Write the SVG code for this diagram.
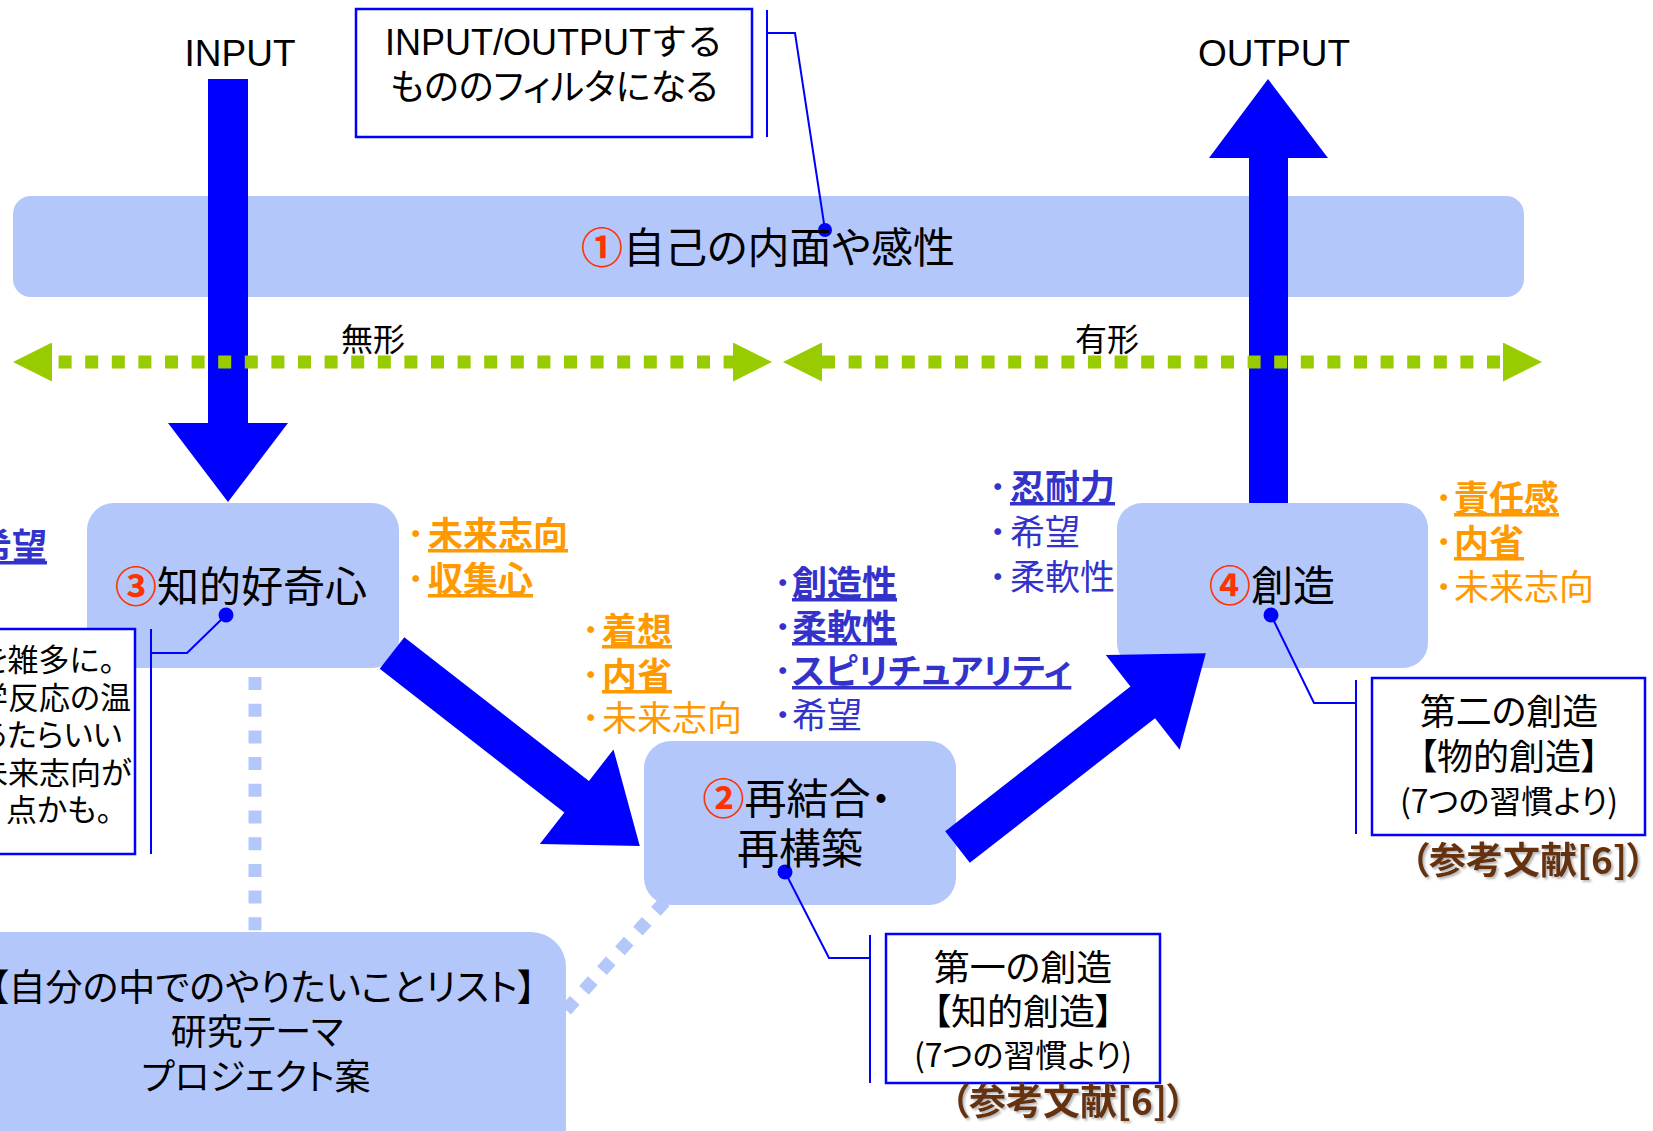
<svg xmlns="http://www.w3.org/2000/svg" width="1653" height="1131" viewBox="0 0 1653 1131">
<defs>
<style>
.jp{font-family:"Noto Sans CJK JP","Noto Sans",sans-serif;font-feature-settings:"palt" 1;}
.lat{font-family:"Liberation Sans","Noto Sans CJK JP",sans-serif;}
.box{fill:#b4c7fb;}
.big{fill:#0000ff;}
.green{stroke:#99cc00;stroke-width:13;stroke-dasharray:13 13.6;fill:none;}
.lb{stroke:#b4c7fb;stroke-width:13;stroke-dasharray:13 13.7;fill:none;}
.cbox{fill:#ffffff;stroke:#0000ff;stroke-width:2.5;}
.lead{fill:none;stroke:#0000ff;stroke-width:2;}
.dot{fill:#0000ff;}
.lbl{font-size:42px;fill:#000;}
.num{fill:#ff3300;font-weight:bold;}
.or{fill:#ff9900;font-size:35px;}
.bl{fill:#3333cc;font-size:35px;}
.b{font-weight:bold;}
.u{text-decoration:underline;}
.bul{font-feature-settings:normal;font-weight:bold;text-decoration:none;}
.ct{font-size:36px;fill:#000;text-anchor:middle;}
.ref{font-size:37px;font-weight:bold;fill:#663311;text-anchor:middle;filter:url(#sh);}
</style>
<marker id="gh" viewBox="0 0 39 39" refX="0" refY="19.5" markerWidth="39" markerHeight="39" markerUnits="userSpaceOnUse" orient="auto-start-reverse">
<path d="M0,0 L39,19.5 L0,39 Z" fill="#99cc00"/>
</marker>
<filter id="sh" x="-5%" y="-20%" width="110%" height="150%">
<feDropShadow dx="2" dy="2" stdDeviation="1" flood-color="#888" flood-opacity="0.6"/>
</filter>
</defs>
<rect width="1653" height="1131" fill="#ffffff"/>

<g id="node1">
<rect class="box" x="13" y="196" width="1511" height="101" rx="18"/>
</g>

<g id="connectors-dotted">
<line class="lb" x1="255" y1="677" x2="255" y2="935"/>
<line class="lb" x1="566" y1="1010" x2="668" y2="898"/>
</g>

<g id="node3"><rect class="box" x="87" y="503" width="312" height="165" rx="27"/></g>
<g id="node2"><rect class="box" x="644" y="741" width="312" height="164" rx="27"/></g>
<g id="node4"><rect class="box" x="1117" y="503" width="311" height="165" rx="25"/></g>
<g id="node5"><rect class="box" x="-40" y="932" width="606" height="240" rx="35"/></g>

<g id="connectors">
<polygon class="big" points="208,79 248,79 248,423 288,423 228,502 168,423 208,423"/>
<polygon class="big" points="1249,503 1249,158 1209,158 1268,79 1328,158 1288,158 1288,503"/>
<polygon class="big" transform="translate(392,653) rotate(37.9)" points="0,-20 234,-20 234,-60 314,0 234,60 234,20 0,20"/>
<polygon class="big" transform="translate(957.5,847) rotate(-37.98)" points="0,-20 235,-20 235,-60 315,0 235,60 235,20 0,20"/>
<line class="green" x1="52" y1="362" x2="733" y2="362" stroke-dashoffset="20" marker-start="url(#gh)" marker-end="url(#gh)"/>
<line class="green" x1="822" y1="362" x2="1503" y2="362" marker-start="url(#gh)" marker-end="url(#gh)"/>
</g>

<g id="callout1">
<rect class="cbox" x="356" y="9" width="396" height="128"/>
<line class="lead" x1="767" y1="10" x2="767" y2="137"/>
<polyline class="lead" points="767,33 795,33 825,230"/>
<circle class="dot" cx="825" cy="230" r="7"/>
<text class="lat" x="554" y="55" font-size="36" text-anchor="middle">INPUT/OUTPUTする</text>
<text class="jp" x="554" y="100" font-size="36" text-anchor="middle">もののフィルタになる</text>
</g>

<g id="callout3">
<rect class="cbox" x="-10" y="629" width="145" height="225"/>
<line class="lead" x1="151" y1="629" x2="151" y2="854"/>
<polyline class="lead" points="151,653 187,653 226,615"/>
<circle class="dot" cx="226" cy="615" r="7.5"/>
<text class="jp" font-size="31" fill="#000"><tspan x="-21" y="671">を雑多に。</tspan><tspan x="-23" y="709">学反応の温</tspan><tspan x="-23" y="746">あたらいい</tspan><tspan x="-23" y="784">未来志向が</tspan><tspan x="6" y="821">点かも。</tspan></text>
</g>

<g id="callout2">
<rect class="cbox" x="886" y="934" width="274" height="149"/>
<line class="lead" x1="870" y1="935" x2="870" y2="1083"/>
<polyline class="lead" points="870,958 829,958 785,872"/>
<circle class="dot" cx="785" cy="872" r="7.5"/>
<text class="jp ct"><tspan x="1023" y="981">第一の創造</tspan><tspan x="1023" y="1025">【知的創造】</tspan><tspan x="1023" y="1067" style="font-size:32px">(7つの習慣より)</tspan></text>
<text class="jp ref" x="1068" y="1115">（参考文献[6]）</text>
</g>

<g id="callout4">
<rect class="cbox" x="1372" y="678" width="273" height="157"/>
<line class="lead" x1="1356" y1="680" x2="1356" y2="834"/>
<polyline class="lead" points="1356,703 1314,703 1271,615"/>
<circle class="dot" cx="1271" cy="615" r="7.5"/>
<text class="jp ct"><tspan x="1509" y="725">第二の創造</tspan><tspan x="1509" y="770">【物的創造】</tspan><tspan x="1509" y="813" style="font-size:32px">(7つの習慣より)</tspan></text>
<text class="jp ref" x="1528" y="874">（参考文献[6]）</text>
</g>

<g id="label1"><text class="jp lbl" x="768" y="263" text-anchor="middle"><tspan class="num">①</tspan>自己の内面や感性</text></g>
<g id="label3"><text class="jp lbl" x="241" y="602" text-anchor="middle"><tspan class="num">③</tspan>知的好奇心</text></g>
<g id="label2"><text class="jp lbl" text-anchor="middle"><tspan x="797" y="814"><tspan class="num">②</tspan>再結合・</tspan><tspan x="800" y="864">再構築</tspan></text></g>
<g id="label4"><text class="jp lbl" x="1272" y="601" text-anchor="middle"><tspan class="num">④</tspan>創造</text></g>
<g id="label5">
<text class="jp" font-size="36" text-anchor="middle"><tspan x="263" y="1001" style="font-size:37px">【自分の中でのやりたいことリスト】</tspan><tspan x="257" y="1045">研究テーマ</tspan><tspan x="256" y="1090">プロジェクト案</tspan></text>
</g>

<g id="io-labels">
<text class="lat" x="240" y="66" font-size="37" text-anchor="middle">INPUT</text>
<text class="lat" x="1274" y="66" font-size="37" text-anchor="middle">OUTPUT</text>
<text class="jp" x="373" y="351" font-size="32" text-anchor="middle">無形</text>
<text class="jp" x="1107" y="351" font-size="32" text-anchor="middle">有形</text>
</g>

<g id="list-left"><text class="jp bl b u" x="47" y="559" text-anchor="end">希望</text></g>

<g id="list3">
<text class="jp or b"><tspan class="bul" x="407" y="547">･</tspan><tspan class="u" x="428" y="547">未来志向</tspan><tspan class="bul" x="407" y="592">･</tspan><tspan class="u" x="428" y="592">収集心</tspan></text>
</g>

<g id="list2o">
<text class="jp or"><tspan class="bul" x="582" y="643">･</tspan><tspan class="b u" x="602" y="643">着想</tspan><tspan class="bul" x="582" y="688">･</tspan><tspan class="b u" x="602" y="688">内省</tspan><tspan class="bul" x="582" y="731">･</tspan><tspan x="602" y="731">未来志向</tspan></text>
</g>

<g id="list2b">
<text class="jp bl"><tspan class="bul" x="774" y="596">･</tspan><tspan class="b u" x="792" y="596">創造性</tspan><tspan class="bul" x="774" y="640">･</tspan><tspan class="b u" x="792" y="640">柔軟性</tspan><tspan class="bul" x="774" y="684">･</tspan><tspan class="b u" x="792" y="684">スピリチュアリティ</tspan><tspan class="bul" x="774" y="728">･</tspan><tspan x="792" y="728">希望</tspan></text>
</g>

<g id="list4b">
<text class="jp bl"><tspan class="bul" x="989" y="500">･</tspan><tspan class="b u" x="1010" y="500">忍耐力</tspan><tspan class="bul" x="989" y="545">･</tspan><tspan x="1010" y="545">希望</tspan><tspan class="bul" x="989" y="590">･</tspan><tspan x="1010" y="590">柔軟性</tspan></text>
</g>

<g id="list4o">
<text class="jp or"><tspan class="bul" x="1435" y="511">･</tspan><tspan class="b u" x="1454" y="511">責任感</tspan><tspan class="bul" x="1435" y="555">･</tspan><tspan class="b u" x="1454" y="555">内省</tspan><tspan class="bul" x="1435" y="600">･</tspan><tspan x="1454" y="600">未来志向</tspan></text>
</g>
</svg>
